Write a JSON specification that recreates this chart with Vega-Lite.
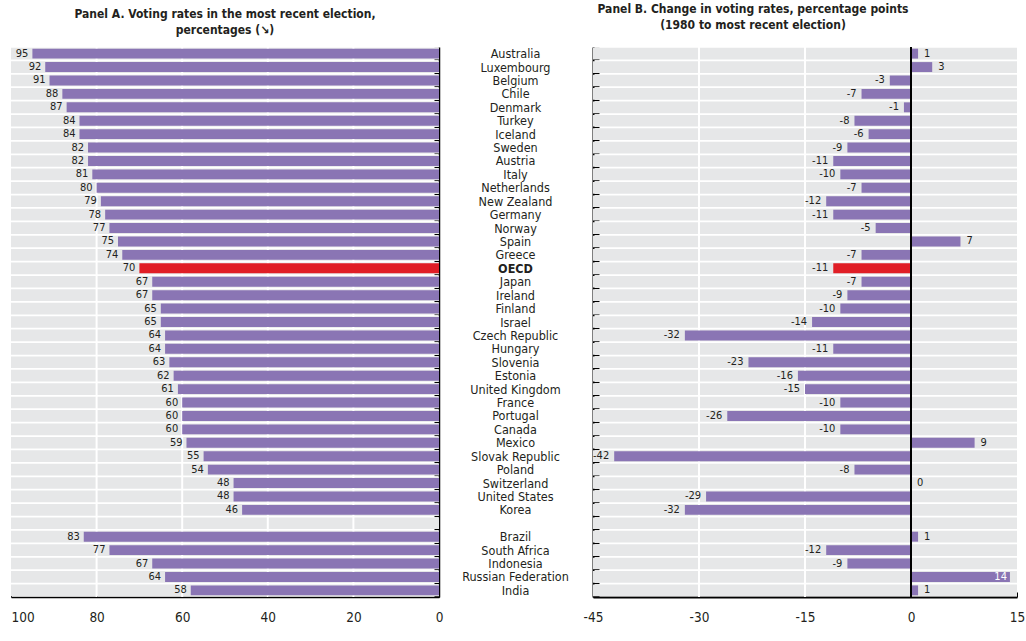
{
  "$schema": "https://vega.github.io/schema/vega-lite/v6.json",
  "background": "white",
  "padding": {"left": 10, "top": 2, "right": 2, "bottom": 2},
  "spacing": 154,
  "bounds": "flush",
  "config": {
    "font": "DejaVu Sans Condensed, sans-serif",
    "view": {"stroke": null},
    "axis": {"grid": false, "domainColor": "#000000", "tickColor": "#000000", "labelColor": "#231F20", "labelFont": "DejaVu Sans Condensed, sans-serif"},
    "title": {"font": "DejaVu Sans Condensed, sans-serif", "fontSize": 12, "fontWeight": "bold", "color": "#231F20", "frame": "group", "anchor": "middle", "offset": 9, "lineHeight": 16.5}
  },
  "datasets": {
    "main": [
      {"country": "Australia", "rate": 95, "change": 1},
      {"country": "Luxembourg", "rate": 92, "change": 3},
      {"country": "Belgium", "rate": 91, "change": -3},
      {"country": "Chile", "rate": 88, "change": -7},
      {"country": "Denmark", "rate": 87, "change": -1},
      {"country": "Turkey", "rate": 84, "change": -8},
      {"country": "Iceland", "rate": 84, "change": -6},
      {"country": "Sweden", "rate": 82, "change": -9},
      {"country": "Austria", "rate": 82, "change": -11},
      {"country": "Italy", "rate": 81, "change": -10},
      {"country": "Netherlands", "rate": 80, "change": -7},
      {"country": "New Zealand", "rate": 79, "change": -12},
      {"country": "Germany", "rate": 78, "change": -11},
      {"country": "Norway", "rate": 77, "change": -5},
      {"country": "Spain", "rate": 75, "change": 7},
      {"country": "Greece", "rate": 74, "change": -7},
      {"country": "OECD", "rate": 70, "change": -11},
      {"country": "Japan", "rate": 67, "change": -7},
      {"country": "Ireland", "rate": 67, "change": -9},
      {"country": "Finland", "rate": 65, "change": -10},
      {"country": "Israel", "rate": 65, "change": -14},
      {"country": "Czech Republic", "rate": 64, "change": -32},
      {"country": "Hungary", "rate": 64, "change": -11},
      {"country": "Slovenia", "rate": 63, "change": -23},
      {"country": "Estonia", "rate": 62, "change": -16},
      {"country": "United Kingdom", "rate": 61, "change": -15},
      {"country": "France", "rate": 60, "change": -10},
      {"country": "Portugal", "rate": 60, "change": -26},
      {"country": "Canada", "rate": 60, "change": -10},
      {"country": "Mexico", "rate": 59, "change": 9},
      {"country": "Slovak Republic", "rate": 55, "change": -42},
      {"country": "Poland", "rate": 54, "change": -8},
      {"country": "Switzerland", "rate": 48, "change": 0},
      {"country": "United States", "rate": 48, "change": -29},
      {"country": "Korea", "rate": 46, "change": -32},
      {"country": " ", "rate": null, "change": null},
      {"country": "Brazil", "rate": 83, "change": 1},
      {"country": "South Africa", "rate": 77, "change": -12},
      {"country": "Indonesia", "rate": 67, "change": -9},
      {"country": "Russian Federation", "rate": 64, "change": 14},
      {"country": "India", "rate": 58, "change": 1}
    ],
    "gridA": [{"v": 20}, {"v": 40}, {"v": 60}, {"v": 80}],
    "gridB": [{"v": -30}, {"v": -15}]
  },
  "hconcat": [
    {
      "width": 428,
      "height": 550,
      "title": {"text": ["Panel A. Voting rates in the most recent election,", "percentages (↘)"]},
      "layer": [
        {
          "data": {"name": "main"},
          "mark": {"type": "bar", "color": "#E6E7E8"},
          "encoding": {
            "y": {"field": "country", "type": "nominal", "sort": null, "scale": {"paddingInner": 0.13, "paddingOuter": 0.06},
              "axis": {"orient": "right", "title": null, "labels": false, "tickSize": -5, "tickBand": "extent", "domainWidth": 1.5, "tickWidth": 1.2}},
            "x": {"datum": 100, "type": "quantitative", "scale": {"domain": [0, 100], "reverse": true, "nice": false},
              "axis": {"title": null, "values": [0, 20, 40, 60, 80, 100], "tickSize": -5, "labelFontSize": 13.5, "labelPadding": 18, "domainWidth": 1.5, "labelFlush": false,
                "labelAlign": {"condition": {"test": "datum.value === 100", "value": "left"}, "value": "center"}}},
            "x2": {"datum": 0}
          }
        },
        {
          "data": {"name": "gridA"},
          "mark": {"type": "rule", "color": "white", "strokeWidth": 2},
          "encoding": {"x": {"field": "v", "type": "quantitative"}}
        },
        {
          "data": {"name": "main"},
          "transform": [{"filter": "isValid(datum.rate)"}],
          "mark": {"type": "bar", "height": {"band": 0.85}},
          "encoding": {
            "y": {"field": "country", "type": "nominal", "sort": null},
            "x": {"field": "rate", "type": "quantitative"},
            "color": {"condition": {"test": "datum.country === 'OECD'", "value": "#E01E26"}, "value": "#8A75B4"}
          }
        },
        {
          "data": {"name": "main"},
          "transform": [{"filter": "isValid(datum.rate)"}],
          "mark": {"type": "text", "align": "right", "baseline": "middle", "dx": -4, "fontSize": 11, "color": "#231F20"},
          "encoding": {
            "y": {"field": "country", "type": "nominal", "sort": null},
            "x": {"field": "rate", "type": "quantitative"},
            "text": {"field": "rate", "type": "nominal"},
            "fontWeight": {"condition": {"test": "datum.country === 'OECD'", "value": "bold"}, "value": "normal"}
          }
        }
      ]
    },
    {
      "width": 424,
      "height": 550,
      "title": {"text": ["Panel B. Change in voting rates, percentage points", "(1980 to most recent election)"], "dx": -52},
      "layer": [
        {
          "data": {"name": "main"},
          "mark": {"type": "bar", "color": "#E6E7E8"},
          "encoding": {
            "y": {"field": "country", "type": "nominal", "sort": null, "scale": {"paddingInner": 0.13, "paddingOuter": 0.06},
              "axis": {"orient": "left", "title": null, "tickSize": -6, "tickBand": "extent", "domainWidth": 2, "tickWidth": 1.2,
                "labelAlign": "center", "labelPadding": 84, "labelFontSize": 12.5, "labelColor": "#231F20",
                "labelFontWeight": {"condition": {"test": "datum.value === 'OECD'", "value": "bold"}, "value": "normal"}}},
            "x": {"datum": -45, "type": "quantitative", "scale": {"domain": [-45, 15], "nice": false},
              "axis": {"title": null, "values": [-45, -30, -15, 0, 15], "tickSize": -5, "labelFontSize": 13.5, "labelPadding": 18, "domainWidth": 2, "labelFlush": false,
                "labelExpr": "'' + datum.value"}},
            "x2": {"datum": 15}
          }
        },
        {
          "data": {"name": "gridB"},
          "mark": {"type": "rule", "color": "white", "strokeWidth": 2},
          "encoding": {"x": {"field": "v", "type": "quantitative"}}
        },
        {
          "data": {"name": "main"},
          "transform": [{"filter": "isValid(datum.change)"}],
          "mark": {"type": "bar", "height": {"band": 0.85}},
          "encoding": {
            "y": {"field": "country", "type": "nominal", "sort": null},
            "x": {"field": "change", "type": "quantitative"},
            "x2": {"datum": 0},
            "color": {"condition": {"test": "datum.country === 'OECD'", "value": "#E01E26"}, "value": "#8A75B4"}
          }
        },
        {
          "data": {"name": "main"},
          "transform": [{"filter": "datum.country === ' '"}],
          "mark": {"type": "rule", "color": "#000000", "strokeWidth": 2},
          "encoding": {"x": {"datum": 0}}
        },
        {
          "data": {"name": "main"},
          "transform": [{"filter": "isValid(datum.change) && datum.change < 0"}],
          "mark": {"type": "text", "align": "right", "baseline": "middle", "dx": -5, "fontSize": 11, "color": "#231F20"},
          "encoding": {
            "y": {"field": "country", "type": "nominal", "sort": null},
            "x": {"field": "change", "type": "quantitative"},
            "text": {"field": "change", "type": "nominal"},
            "fontWeight": {"condition": {"test": "datum.country === 'OECD'", "value": "bold"}, "value": "normal"}
          }
        },
        {
          "data": {"name": "main"},
          "transform": [{"filter": "isValid(datum.change) && datum.change >= 0 && datum.change < 12"}],
          "mark": {"type": "text", "align": "left", "baseline": "middle", "dx": 6, "fontSize": 11, "color": "#231F20"},
          "encoding": {
            "y": {"field": "country", "type": "nominal", "sort": null},
            "x": {"field": "change", "type": "quantitative"},
            "text": {"field": "change", "type": "nominal"}
          }
        },
        {
          "data": {"name": "main"},
          "transform": [{"filter": "isValid(datum.change) && datum.change >= 12"}],
          "mark": {"type": "text", "align": "right", "baseline": "middle", "dx": -3, "fontSize": 11, "color": "#FFFFFF"},
          "encoding": {
            "y": {"field": "country", "type": "nominal", "sort": null},
            "x": {"field": "change", "type": "quantitative"},
            "text": {"field": "change", "type": "nominal"}
          }
        }
      ]
    }
  ]
}
